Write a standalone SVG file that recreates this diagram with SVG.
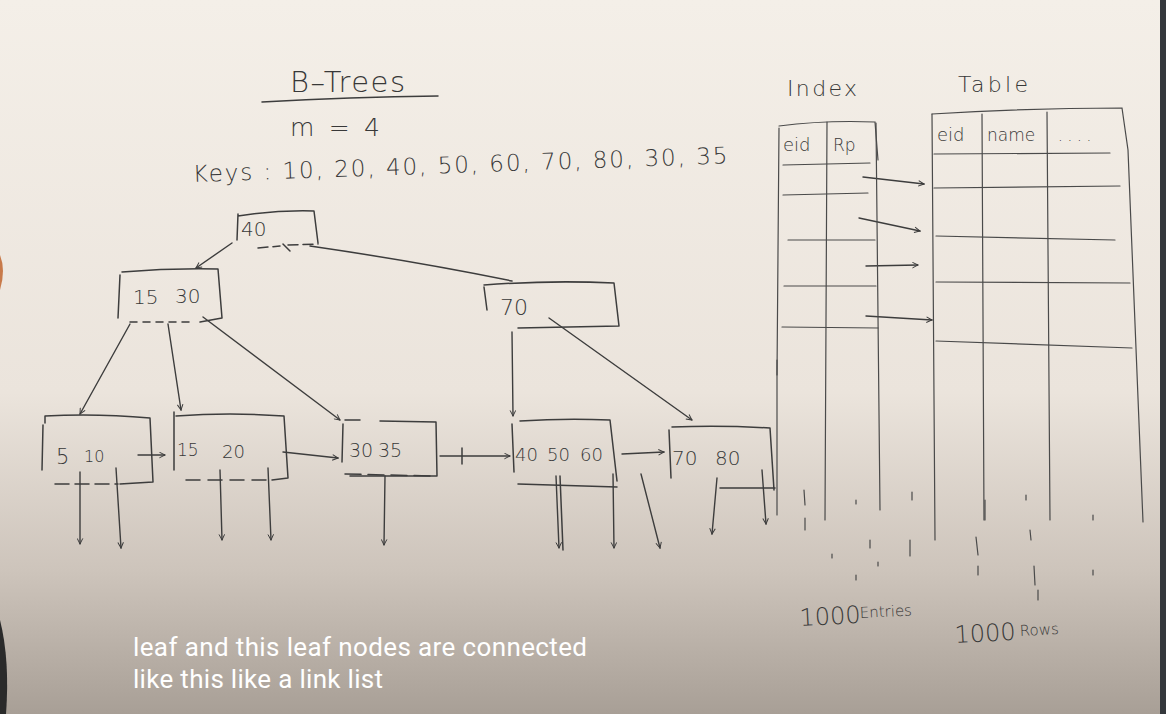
<svg xmlns="http://www.w3.org/2000/svg" width="1166" height="714" viewBox="0 0 1166 714">
<defs>
<linearGradient id="bg" x1="0" y1="0" x2="0" y2="1">
<stop offset="0" stop-color="#f4efe8"/>
<stop offset="0.55" stop-color="#ebe4dc"/>
<stop offset="0.8" stop-color="#cdc4bb"/>
<stop offset="1" stop-color="#a89f96"/>
</linearGradient>
<marker id="ah" viewBox="0 0 10 10" refX="9" refY="5" markerWidth="7" markerHeight="7" orient="auto-start-reverse" markerUnits="userSpaceOnUse">
<path d="M1,1 L9,5 L1,9" fill="none" stroke="#3a3a3a" stroke-width="1.4"/>
</marker>
</defs>
<style>
.pen{fill:none;stroke:#3d3d3d;stroke-width:1.5;stroke-linecap:round;stroke-linejoin:round}
.thin{fill:none;stroke:#4a4a4a;stroke-width:1.2;stroke-linecap:round}
.hw{font-family:"DejaVu Sans","Liberation Sans",sans-serif;fill:#383838;font-weight:300}
.cap{font-family:Roboto,"Liberation Sans",sans-serif;fill:#ffffff;font-size:26px}
.arr{fill:none;stroke:#3d3d3d;stroke-width:1.4;stroke-linecap:round;marker-end:url(#ah)}
</style>
<rect width="1166" height="714" fill="url(#bg)"/>
<rect x="1160" y="0" width="6" height="714" fill="#34383c"/>
<path d="M0,620 Q10,660 6,714 L0,714 Z" fill="#2a2a2a"/>
<path d="M0,255 Q6,270 0,290 Z" fill="#c87a4a"/>

<g id="title">
<text class="hw" x="290" y="92" font-size="29" textLength="115">B–Trees</text>
<path class="pen" d="M262,102 Q350,97 438,96"/>
<text class="hw" x="290" y="136" font-size="25" textLength="90">m = 4</text>
<text class="hw" x="193" y="182" font-size="23" textLength="535" transform="rotate(-2 193 182)">Keys :  10, 20, 40, 50, 60, 70, 80, 30, 35</text>
</g>

<g id="root">
<path class="pen" d="M238,216 Q275,210 314,211 L318,243 M238,214 L237,240"/>
<path class="pen" d="M258,248 L280,246 M288,245 L318,244" stroke-dasharray="10 5"/>
<text class="hw" x="241" y="236" font-size="20">40</text>
</g>

<g id="n15_30">
<path class="pen" d="M122,272 Q170,268 218,269 L222,318 L200,322 M120,275 L118,318"/>
<path class="pen" d="M130,322 L195,322" stroke-dasharray="7 6"/>
<text class="hw" x="133" y="304" font-size="20">15</text>
<text class="hw" x="175" y="303" font-size="20">30</text>
</g>

<g id="n70">
<path class="pen" d="M484,285 Q550,280 614,283 L619,326 L518,328 M484,287 L487,310"/>
<text class="hw" x="500" y="315" font-size="22">70</text>
</g>

<g id="leaf1">
<path class="pen" d="M45,423 L45,416 Q95,413 150,418 L153,482 L120,484 M43,425 L42,470"/>
<path class="pen" d="M55,484 L118,484" stroke-dasharray="14 6"/>
<text class="hw" x="56" y="464" font-size="21">5</text>
<text class="hw" x="84" y="462" font-size="16">10</text>
</g>

<g id="leaf2">
<path class="pen" d="M174,412 L174,470 M176,416 Q230,412 284,416 L288,478 L272,480"/>
<path class="pen" d="M186,480 L268,480" stroke-dasharray="14 8"/>
<text class="hw" x="177" y="456" font-size="17">15</text>
<text class="hw" x="222" y="458" font-size="18">20</text>
</g>

<g id="leaf3">
<path class="pen" d="M343,424 L342,462 M345,420 L360,420 M380,421 L436,422 L437,476 L350,476"/>
<path class="pen" d="M345,474 L432,476" stroke-dasharray="16 7"/>
<text class="hw" x="349" y="457" font-size="19">30</text>
<text class="hw" x="378" y="457" font-size="19">35</text>
</g>

<g id="leaf4">
<path class="pen" d="M512,424 L514,472 M520,421 Q565,418 610,420 L617,481 M518,484 L617,487"/>
<text class="hw" x="515" y="461" font-size="18">40</text>
<text class="hw" x="547" y="461" font-size="18">50</text>
<text class="hw" x="580" y="461" font-size="18">60</text>
</g>

<g id="leaf5">
<path class="pen" d="M669,430 L671,478 M672,427 Q720,425 770,428 L774,490 M720,488 L775,488"/>
<text class="hw" x="672" y="465" font-size="20">70</text>
<text class="hw" x="715" y="465" font-size="20">80</text>
</g>

<g id="connectors">
<line class="arr" x1="232" y1="243" x2="196" y2="268"/>
<path class="pen" d="M310,246 Q420,262 512,281"/>
<path class="pen" d="M283,244 L290,251"/>
<line class="arr" x1="130" y1="324" x2="80" y2="414"/>
<line class="arr" x1="168" y1="324" x2="181" y2="410"/>
<line class="arr" x1="203" y1="317" x2="340" y2="420"/>
<line class="arr" x1="512" y1="332" x2="513" y2="416"/>
<line class="arr" x1="549" y1="318" x2="692" y2="420"/>
<line class="arr" x1="138" y1="455" x2="165" y2="455"/>
<line class="arr" x1="283" y1="452" x2="338" y2="458"/>
<line class="arr" x1="440" y1="456" x2="510" y2="456"/>
<path class="pen" d="M462,448 L462,464"/>
<line class="arr" x1="622" y1="454" x2="664" y2="452"/>
<line class="arr" x1="80" y1="472" x2="80" y2="544"/>
<line class="arr" x1="116" y1="468" x2="121" y2="548"/>
<line class="arr" x1="220" y1="470" x2="222" y2="540"/>
<line class="arr" x1="268" y1="468" x2="271" y2="540"/>
<line class="arr" x1="385" y1="476" x2="384" y2="545"/>
<line class="arr" x1="556" y1="476" x2="559" y2="548"/>
<path class="pen" d="M560,476 L563,550"/>
<line class="arr" x1="613" y1="474" x2="614" y2="548"/>
<line class="arr" x1="641" y1="474" x2="660" y2="548"/>
<line class="arr" x1="717" y1="478" x2="712" y2="534"/>
<line class="arr" x1="762" y1="470" x2="766" y2="524"/>
<line class="arr" x1="863" y1="177" x2="924" y2="184"/>
<line class="arr" x1="859" y1="218" x2="920" y2="231"/>
<line class="arr" x1="866" y1="266" x2="918" y2="265"/>
<line class="arr" x1="866" y1="316" x2="932" y2="320"/>
</g>

<g id="index">
<text class="hw" x="787" y="96" font-size="22" textLength="70">Index</text>
<path class="thin" d="M779,126 Q825,120 875,122 L878,160 M779,128 L777,375"/>
<path class="thin" d="M827,122 L825,520 M876,123 L880,510"/>
<text class="hw" x="783" y="151" font-size="18">eid</text>
<text class="hw" x="833" y="151" font-size="17">Rp</text>
<path class="thin" d="M783,165 L870,163 M783,195 L868,193 M788,240 L875,240 M784,286 L876,286 M782,327 L878,328"/>
<path class="thin" d="M777,360 L777,515"/>
<path class="thin" d="M804,490 L805,505 M805,518 L805,530 M832,554 L832,558 M856,500 L856,504 M870,540 L870,548 M910,540 L910,556 M912,492 L912,500 M878,562 L878,566 M856,575 L856,580"/>
</g>

<g id="table">
<text class="hw" x="958" y="92" font-size="22" textLength="70">Table</text>
<path class="thin" d="M932,114 Q1030,108 1122,108 L1128,150 L1143,522"/>
<path class="thin" d="M932,114 L935,540 M982,114 L984,520 M1047,112 L1050,520"/>
<text class="hw" x="937" y="141" font-size="18">eid</text>
<text class="hw" x="987" y="141" font-size="17">name</text>
<text class="hw" x="1058" y="141" font-size="15">. . . .</text>
<path class="thin" d="M934,154 L1110,153 M934,188 L1120,186 M936,236 L1115,240 M936,282 L1130,283 M936,341 L1132,348"/>
<path class="thin" d="M985,500 L985,520 M1026,495 L1026,500 M1030,530 L1031,540 M1093,515 L1093,520 M976,537 L978,555 M978,566 L978,575 M1034,566 L1035,585 M1093,570 L1093,575 M1038,590 L1038,600"/>
</g>

<g id="counts">
<text class="hw" x="800" y="626" font-size="24" transform="rotate(-3 800 626)">1000</text>
<text class="hw" x="860" y="618" font-size="15" transform="rotate(-3 860 618)">Entries</text>
<text class="hw" x="955" y="643" font-size="24" transform="rotate(-3 955 643)">1000</text>
<text class="hw" x="1020" y="636" font-size="15" transform="rotate(-3 1020 636)">Rows</text>
</g>

<g id="caption">
<text class="cap" x="133" y="656" textLength="454">leaf and this leaf nodes are connected</text>
<text class="cap" x="133" y="688" textLength="250">like this like a link list</text>
</g>
</svg>
